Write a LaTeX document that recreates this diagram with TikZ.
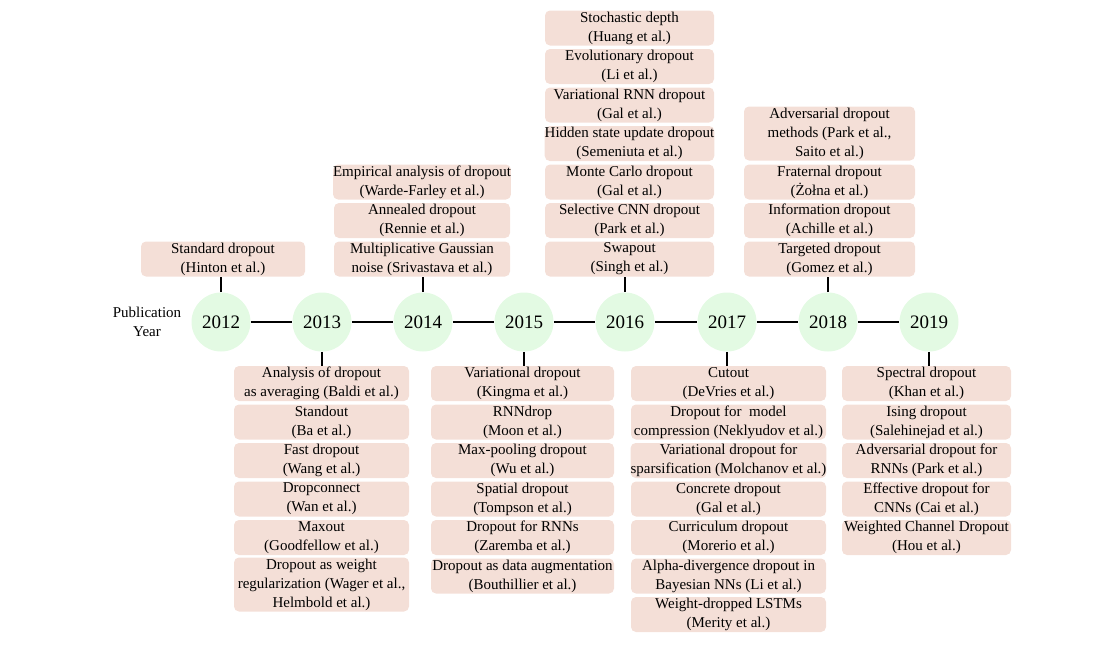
\documentclass[tikz,border=0pt]{standalone}
\usepackage{fontspec}
\setmainfont{Liberation Serif}
\definecolor{boxfill}{RGB}{244,223,215}
\definecolor{yearfill}{RGB}{227,250,227}
\begin{document}
\begin{tikzpicture}[x=0.75pt,y=-0.75pt,
  evbox/.style={fill=boxfill, rounded corners=3.75pt, inner sep=0pt, align=center,
    minimum height=26.25pt, font=\fontsize{11.25}{14.25}\selectfont},
  tall/.style={minimum height=40.5pt},
  yearnode/.style={circle, fill=yearfill, minimum size=44.25pt, inner sep=0pt,
    font=\fontsize{14.25}{16}\selectfont},
  link/.style={line width=1.5pt, black}]
\useasboundingbox (0,0) rectangle (1103,654);

% label on the left
\node[align=center, font=\fontsize{11.25}{14.25}\selectfont] (lbl) at (147,322) {Publication\\Year};

% years on the time axis
\node[yearnode] (y2012) at (221,322) {2012};
\node[yearnode] (y2013) at (322,322) {2013};
\node[yearnode] (y2014) at (423,322) {2014};
\node[yearnode] (y2015) at (524,322) {2015};
\node[yearnode] (y2016) at (625,322) {2016};
\node[yearnode] (y2017) at (727,322) {2017};
\node[yearnode] (y2018) at (828,322) {2018};
\node[yearnode] (y2019) at (929,322) {2019};

\draw[link] (y2012) -- (y2013);
\draw[link] (y2013) -- (y2014);
\draw[link] (y2014) -- (y2015);
\draw[link] (y2015) -- (y2016);
\draw[link] (y2016) -- (y2017);
\draw[link] (y2017) -- (y2018);
\draw[link] (y2018) -- (y2019);

% 2012 (above)
\node[evbox, minimum width=123pt] (a12a) at (223,259) {Standard dropout\\(Hinton et al.)};

% 2014 (above)
\node[evbox, minimum width=132pt] (a14a) at (422,259) {Multiplicative Gaussian\\noise (Srivastava et al.)};
\node[evbox, minimum width=132pt] (a14b) at (422,220.5) {Annealed dropout\\(Rennie et al.)};
\node[evbox, minimum width=132pt] (a14c) at (422,182) {Empirical analysis of dropout\\(Warde-Farley et al.)};

% 2016 (above)
\node[evbox, minimum width=126.75pt] (a16a) at (629.5,259) {Swapout\\(Singh et al.)};
\node[evbox, minimum width=126.75pt] (a16b) at (629.5,220.5) {Selective CNN dropout\\(Park et al.)};
\node[evbox, minimum width=126.75pt] (a16c) at (629.5,182) {Monte Carlo dropout\\(Gal et al.)};
\node[evbox, minimum width=126.75pt] (a16d) at (629.5,143.5) {Hidden state update dropout\\(Semeniuta et al.)};
\node[evbox, minimum width=126.75pt] (a16e) at (629.5,105) {Variational RNN dropout\\(Gal et al.)};
\node[evbox, minimum width=126.75pt] (a16f) at (629.5,66.5) {Evolutionary dropout\\(Li et al.)};
\node[evbox, minimum width=126.75pt] (a16g) at (629.5,28) {Stochastic depth\\(Huang et al.)};

% 2018 (above)
\node[evbox, minimum width=128.25pt] (a18a) at (829.5,259) {Targeted dropout\\(Gomez et al.)};
\node[evbox, minimum width=128.25pt] (a18b) at (829.5,220.5) {Information dropout\\(Achille et al.)};
\node[evbox, minimum width=128.25pt] (a18c) at (829.5,182) {Fraternal dropout\\(Żołna et al.)};
\node[evbox, tall, minimum width=128.25pt] (a18d) at (829.5,133.5) {Adversarial dropout\\methods (Park et al.,\\Saito et al.)};

% 2013 (below)
\node[evbox, minimum width=131.25pt] (b13a) at (321.5,383.5) {Analysis of dropout\\as averaging (Baldi et al.)};
\node[evbox, minimum width=131.25pt] (b13b) at (321.5,422) {Standout\\(Ba et al.)};
\node[evbox, minimum width=131.25pt] (b13c) at (321.5,460.5) {Fast dropout\\(Wang et al.)};
\node[evbox, minimum width=131.25pt] (b13d) at (321.5,499) {Dropconnect\\(Wan et al.)};
\node[evbox, minimum width=131.25pt] (b13e) at (321.5,537.5) {Maxout\\(Goodfellow et al.)};
\node[evbox, tall, minimum width=131.25pt] (b13f) at (321.5,584.5) {Dropout as weight\\regularization (Wager et al.,\\Helmbold et al.)};

% 2015 (below)
\node[evbox, minimum width=137.25pt] (b15a) at (522.5,383.5) {Variational dropout\\(Kingma et al.)};
\node[evbox, minimum width=137.25pt] (b15b) at (522.5,422) {RNNdrop\\(Moon et al.)};
\node[evbox, minimum width=137.25pt] (b15c) at (522.5,460.5) {Max-pooling dropout\\(Wu et al.)};
\node[evbox, minimum width=137.25pt] (b15d) at (522.5,499) {Spatial dropout\\(Tompson et al.)};
\node[evbox, minimum width=137.25pt] (b15e) at (522.5,537.5) {Dropout for RNNs\\(Zaremba et al.)};
\node[evbox, minimum width=137.25pt] (b15f) at (522.5,576) {Dropout as data augmentation\\(Bouthillier et al.)};

% 2017 (below)
\node[evbox, minimum width=146.25pt] (b17a) at (728.5,383.5) {Cutout\\(DeVries et al.)};
\node[evbox, minimum width=146.25pt] (b17b) at (728.5,422) {Dropout for\ \ model\\compression (Neklyudov et al.)};
\node[evbox, minimum width=146.25pt] (b17c) at (728.5,460.5) {Variational dropout for\\sparsification (Molchanov et al.)};
\node[evbox, minimum width=146.25pt] (b17d) at (728.5,499) {Concrete dropout\\(Gal et al.)};
\node[evbox, minimum width=146.25pt] (b17e) at (728.5,537.5) {Curriculum dropout\\(Morerio et al.)};
\node[evbox, minimum width=146.25pt] (b17f) at (728.5,576) {Alpha-divergence dropout in\\Bayesian NNs (Li et al.)};
\node[evbox, minimum width=146.25pt] (b17g) at (728.5,614.5) {Weight-dropped LSTMs\\(Merity et al.)};

% 2019 (below)
\node[evbox, minimum width=126.75pt] (b19a) at (926.5,383.5) {Spectral dropout\\(Khan et al.)};
\node[evbox, minimum width=126.75pt] (b19b) at (926.5,422) {Ising dropout\\(Salehinejad et al.)};
\node[evbox, minimum width=126.75pt] (b19c) at (926.5,460.5) {Adversarial dropout for\\RNNs (Park et al.)};
\node[evbox, minimum width=126.75pt] (b19d) at (926.5,499) {Effective dropout for\\CNNs (Cai et al.)};
\node[evbox, minimum width=126.75pt] (b19e) at (926.5,537.5) {Weighted Channel Dropout\\(Hou et al.)};

% stems joining each year to its column
\draw[link] (y2012.north) -- (y2012.north |- a12a.south);
\draw[link] (y2014.north) -- (y2014.north |- a14a.south);
\draw[link] (y2016.north) -- (y2016.north |- a16a.south);
\draw[link] (y2018.north) -- (y2018.north |- a18a.south);
\draw[link] (y2013.south) -- (y2013.south |- b13a.north);
\draw[link] (y2015.south) -- (y2015.south |- b15a.north);
\draw[link] (y2017.south) -- (y2017.south |- b17a.north);
\draw[link] (y2019.south) -- (y2019.south |- b19a.north);
\end{tikzpicture}
\end{document}
